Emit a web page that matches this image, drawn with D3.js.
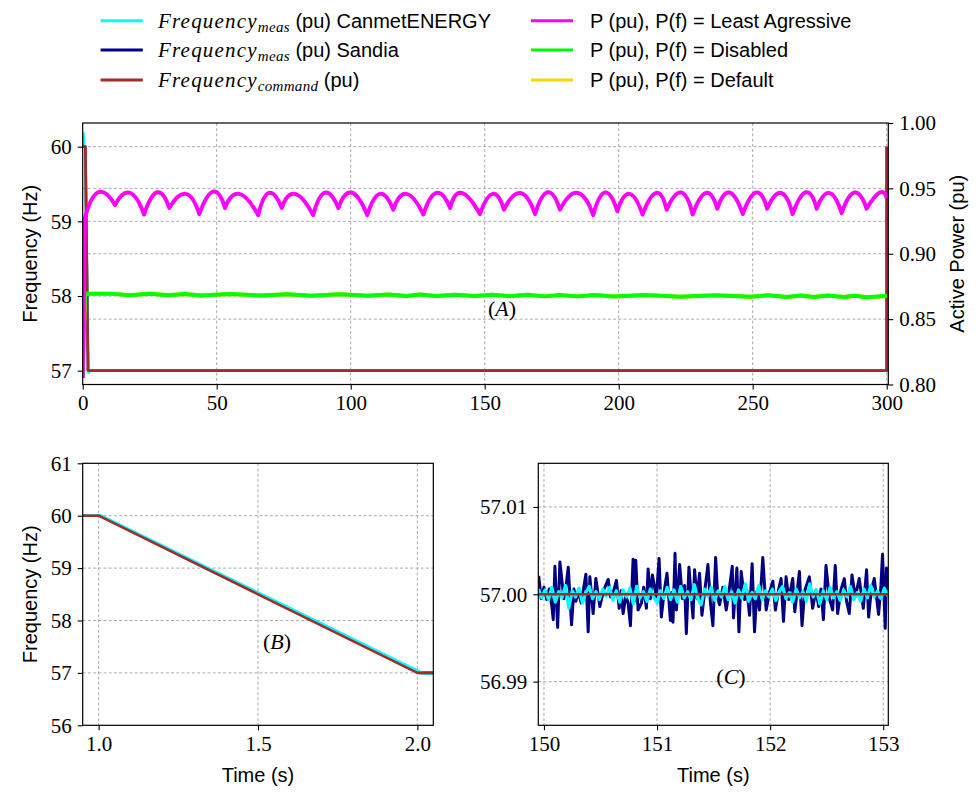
<!DOCTYPE html>
<html>
<head>
<meta charset="utf-8">
<script src="https://cdn.jsdelivr.net/npm/d3@7"></script>
<style>
  html, body { margin: 0; padding: 0; background: #fff; }
  svg { display: block; }
</style>
</head>
<body>
<svg id="chart" width="979" height="794"></svg>
<script>
// ---------------- Series names and colours ----------------
const freqSeriesNames = ["CanmetENERGY", "Sandia", "command"];
const powerSeriesNames = ["Least Agressive", "Disabled", "Default"];

// ---------------- Panel A: full 300 s test ----------------
const xTicksA = [0, 50, 100, 150, 200, 250, 300];
const fTicksA = [57, 58, 59, 60];
const pTicksA = [0.80, 0.85, 0.90, 0.95, 1.00];

// frequency command (Hz)
const cmdTimeA = [0, 1, 2, 300, 300];
const cmdFreqA = [60, 60, 57, 57, 60];
// measured frequency, CanmetENERGY (Hz)
const canmetTimeA = [0, 0.3, 0.6, 1.01, 2.02, 2.2, 2.6, 300.02, 300.05];
const canmetFreqA = [60.0, 60.18, 60.0, 60.0, 57.0, 56.97, 57.0, 57.0, 60.0];
// measured frequency, Sandia (Hz)
const sandiaTimeA = [0, 1.005, 2.01, 300.01, 300.03];
const sandiaFreqA = [60, 60, 57, 57, 60];

// Active power, P(f) = Least Agressive: start-up ramp, then scalloped trace
// described by its troughs (knots) and the crest between each pair of knots
const leastLeadTime = [0, 0.8];
const leastLeadP = [0.805, 0.927];
const leastKnotTime = [0.8, 12.05, 22.9, 32.3, 43.5, 53.1, 65.5, 74.3, 86.0, 95.4,
  106.2, 115.9, 127.1, 137.1, 148.2, 157.2, 168.8, 178.1, 190.5, 199.5,
  208.9, 217.9, 227.6, 236.8, 246.3, 255.4, 264.9, 273.9, 283.2, 292.5, 300];
const leastKnotP = [0.927, 0.9373, 0.9300, 0.9350, 0.9303, 0.9350, 0.9295, 0.9350, 0.9295, 0.9350,
  0.9295, 0.9337, 0.9300, 0.9350, 0.9303, 0.9337, 0.9303, 0.9337, 0.9295, 0.9325,
  0.9300, 0.9337, 0.9300, 0.9345, 0.9303, 0.9345, 0.9303, 0.9345, 0.9310, 0.9345, 0.9425];
const leastCrestTime = [5.8, 17.6, 27.8, 38.5, 48.7, 58.4, 69.5, 79.2, 90.4, 100.3,
  110.9, 120.8, 132.0, 141.4, 153.0, 163.3, 173.5, 184.7, 194.9, 204.0,
  214.0, 223.3, 232.6, 241.3, 251.3, 260.6, 269.9, 278.6, 288.0, 297.4];
const leastCrestP = [0.9470, 0.9465, 0.9470, 0.9458, 0.9475, 0.9458, 0.9465, 0.9458, 0.9468, 0.9468,
  0.9458, 0.9458, 0.9465, 0.9465, 0.9458, 0.9465, 0.9470, 0.9465, 0.9468, 0.9458,
  0.9465, 0.9468, 0.9465, 0.9468, 0.9468, 0.9465, 0.9470, 0.9465, 0.9468, 0.9468];

// Active power, P(f) = Disabled (the Default run follows the same trace)
const disabledTime = [0, 0.8, 10, 17.6, 25, 32.0, 38, 44.2, 55, 66.6,
  76, 85.3, 96, 106.4, 114, 120.7, 126, 131.9, 139, 146.2,
  153, 159.5, 166, 172.5, 178, 184.4, 191, 198, 210, 222.9,
  236, 249, 256, 262.7, 268, 272.7, 278, 283.9, 288, 292.6, 300];
const disabledP = [0.805, 0.8695, 0.8695, 0.8683, 0.8694, 0.8682, 0.8693, 0.8681, 0.8692, 0.8680,
  0.8691, 0.8679, 0.8690, 0.8678, 0.8689, 0.8677, 0.8688, 0.8677, 0.8687, 0.8676,
  0.8686, 0.8675, 0.8686, 0.8674, 0.8685, 0.8674, 0.8684, 0.8673, 0.8684, 0.8672,
  0.8683, 0.8671, 0.8682, 0.8670, 0.8681, 0.8670, 0.8680, 0.8669, 0.8679, 0.8668, 0.8676];
const defaultTime = disabledTime;
const defaultP = disabledP;

// ---------------- Panel B: the 60 -> 57 Hz ramp ----------------
const xTicksB = [1.0, 1.5, 2.0];
const fTicksB = [56, 57, 58, 59, 60, 61];
const cmdTimeB = [0.95, 1.0, 2.0, 2.05];
const cmdFreqB = [60, 60, 57, 57];
const canmetTimeB = [0.95, 1.008, 2.015, 2.03, 2.05];
const canmetFreqB = [60, 60, 57.0, 56.985, 56.985];
const sandiaTimeB = [0.95, 1.004, 2.006, 2.05];
const sandiaFreqB = [60, 60, 57, 57];

// ---------------- Panel C: steady state at 57 Hz ----------------
const xTicksC = [150, 151, 152, 153];
const fTicksC = [56.99, 57.00, 57.01];
const nominalC = 57.0; // Hz; deviations below are in mHz about this level
const cmdTimeC = [149.9, 153.1];
const cmdDevC = [0, 0];
const sandiaTimeC = [149.953,149.976,150.000,150.024,150.047,150.071,150.082,150.097,150.121,150.141,
  150.176,150.194,150.215,150.244,150.265,150.282,150.306,150.329,150.371,150.391,
  150.406,150.435,150.459,150.494,150.529,150.568,150.588,150.612,150.641,150.665,
  150.682,150.700,150.724,150.744,150.765,150.788,150.800,150.812,150.832,150.862,
  150.882,150.906,150.921,150.941,150.959,150.994,151.018,151.038,151.065,151.088,
  151.118,151.129,151.141,151.159,151.171,151.200,151.224,151.244,151.259,151.282,
  151.318,151.332,151.353,151.376,151.397,151.421,151.450,151.471,151.494,151.518,
  151.538,151.553,151.582,151.612,151.635,151.665,151.676,151.706,151.724,151.744,
  151.774,151.794,151.818,151.841,151.862,151.882,151.906,151.935,151.965,151.994,
  152.024,152.047,152.076,152.097,152.118,152.141,152.165,152.200,152.218,152.259,
  152.282,152.306,152.347,152.376,152.406,152.429,152.450,152.471,152.494,152.524,
  152.553,152.576,152.597,152.626,152.656,152.676,152.700,152.724,152.753,152.788,
  152.824,152.853,152.871,152.894,152.921,152.959,152.979,152.994,153.018,153.029,153.041];
const sandiaDevC = [2.1,-0.5,0.8,-0.6,0.6,-1.5,-2.9,3.2,-3.8,3.7,
  -0.5,0.8,3.1,-3.5,0.6,-0.8,0.3,-1.0,2.3,-4.3,
  2.0,-2.2,1.8,-1.4,0.5,1.7,-0.3,0.2,1.6,-1.6,
  0.4,-2.2,-0.2,-1.0,-3.6,4.0,-0.8,3.9,-1.8,-1.0,
  0.8,-1.6,2.9,-0.5,2.2,-0.3,4.1,-2.6,0.5,2.4,
  -3.0,0.2,-3.2,4.7,-1.8,3.4,-0.5,1.0,-4.5,3.1,
  -2.7,2.8,-0.5,2.4,-2.4,0.3,3.4,-0.8,-3.6,4.2,
  -0.5,-1.2,0.8,-1.8,0.2,3.2,-2.7,3.0,-4.3,2.6,
  -0.6,0.5,-2.4,3.5,-4.3,0.3,-1.8,4.2,-1.8,0.2,
  1.5,-1.8,0.6,1.8,-3.1,2.0,-0.6,1.8,-2.0,2.6,
  -3.6,0.4,2.0,-1.6,0.5,-1.4,0.6,-2.9,3.3,-0.5,
  -1.8,3.3,-2.2,0.5,1.8,-0.8,-2.2,2.2,-0.3,1.8,
  -1.6,2.8,-2.6,0.4,1.8,-2.3,0.8,4.6,-3.9,3.0,0.5];
const canmetTimeC = [149.953,149.98,150.01,150.04,150.07,150.10,150.13,150.16,150.19,150.22,
  150.25,150.28,150.31,150.34,150.37,150.40,150.43,150.46,150.49,150.52,
  150.55,150.58,150.61,150.64,150.67,150.70,150.73,150.76,150.79,150.82,
  150.85,150.88,150.91,150.94,150.97,151.00,151.03,151.06,151.09,151.12,
  151.15,151.18,151.21,151.24,151.27,151.30,151.33,151.36,151.39,151.42,
  151.45,151.48,151.51,151.54,151.57,151.60,151.63,151.66,151.69,151.72,
  151.75,151.78,151.81,151.84,151.87,151.90,151.93,151.96,151.99,152.02,
  152.05,152.08,152.11,152.14,152.17,152.20,152.23,152.26,152.29,152.32,
  152.35,152.38,152.41,152.44,152.47,152.50,152.53,152.56,152.59,152.62,
  152.65,152.68,152.71,152.74,152.77,152.80,152.83,152.86,152.89,152.92,
  152.95,152.98,153.01,153.04];
const canmetDevC = [0.6,-0.4,0.5,-0.6,0.8,-0.9,0.3,-0.4,1.0,-1.6,
  0.4,-0.3,0.7,-1.0,0.2,0.9,-0.5,0.3,-0.6,0.6,
  -0.2,0.8,-0.7,0.4,-0.9,0.5,-0.3,0.7,-1.1,0.9,
  -0.4,0.3,-0.8,0.6,-0.3,-1.0,0.4,-0.5,0.8,-0.6,
  0.5,-0.9,0.9,-0.4,0.3,-0.6,1.1,-0.5,-1.2,0.6,
  -0.2,0.8,-0.7,0.4,-0.3,0.9,-0.6,0.3,-1.0,0.5,
  -0.4,1.2,-0.8,0.2,-0.5,1.0,-0.6,0.4,-0.3,0.6,
  -0.7,0.3,0.9,-0.5,0.2,-0.9,0.6,-0.4,0.3,-0.8,
  1.2,-0.3,0.5,-1.1,0.4,-0.6,0.8,-0.4,0.3,-0.7,
  0.5,-0.3,0.9,-0.6,0.2,-0.8,0.6,-0.4,1.0,-0.3,
  0.4,-0.5,0.7,-0.2];

// ---------------- Styling ----------------
const colors = {
  canmet: "#00ffff", sandia: "#00008b", command: "#a52a2a",
  least: "#ff00ff", disabled: "#00ff00", deflt: "#ffd700"
};
const SERIF = "'Liberation Serif', 'Times New Roman', serif";
const SANS = "'Liberation Sans', Arial, Helvetica, sans-serif";
const TICK_FONT = 21;
const GRID = { stroke: "#a3a3a3", width: 0.9, dash: "3,2.2" };

const svg = d3.select("#chart");
const zip = (a, b) => a.map((v, i) => [v, b[i]]);

function makePanel(id, box) {
  const g = svg.append("g").attr("class", "panel-" + id);
  svg.append("defs").append("clipPath").attr("id", "clip-" + id)
    .append("rect").attr("x", box.left).attr("y", box.top)
    .attr("width", box.right - box.left).attr("height", box.bottom - box.top);
  const grid = g.append("g");
  const plot = g.append("g").attr("clip-path", `url(#clip-${id})`);
  const deco = g.append("g");
  return { g, grid, plot, deco, box };
}

function styleAxis(sel) {
  sel.select(".domain").remove();
  sel.selectAll(".tick line").attr("stroke", "#000").attr("stroke-width", 1.1);
  sel.selectAll(".tick text").attr("font-family", SERIF).attr("font-size", TICK_FONT).attr("fill", "#000");
}

function vGrid(p, x, values) {
  p.grid.selectAll(null).data(values).enter().append("line")
    .attr("x1", d => x(d)).attr("x2", d => x(d))
    .attr("y1", p.box.top).attr("y2", p.box.bottom)
    .attr("stroke", GRID.stroke).attr("stroke-width", GRID.width).attr("stroke-dasharray", GRID.dash);
}
function hGrid(p, y, values) {
  p.grid.selectAll(null).data(values).enter().append("line")
    .attr("y1", d => y(d)).attr("y2", d => y(d))
    .attr("x1", p.box.left).attr("x2", p.box.right)
    .attr("stroke", GRID.stroke).attr("stroke-width", GRID.width).attr("stroke-dasharray", GRID.dash);
}
function frame(p) {
  const b = p.box;
  p.deco.append("rect").attr("x", b.left).attr("y", b.top)
    .attr("width", b.right - b.left).attr("height", b.bottom - b.top)
    .attr("fill", "none").attr("stroke", "#000").attr("stroke-width", 1.2);
}
function drawLine(p, x, y, pts, color, width) {
  p.plot.append("path").datum(pts)
    .attr("d", d3.line().x(d => x(d[0])).y(d => y(d[1])))
    .attr("fill", "none").attr("stroke", color).attr("stroke-width", width)
    .attr("stroke-linejoin", "round").attr("stroke-linecap", "butt");
}
function axisLabelY(xPos, yMid, text) {
  svg.append("text").attr("transform", `translate(${xPos},${yMid}) rotate(-90)`)
    .attr("text-anchor", "middle").attr("font-family", SANS).attr("font-size", 20)
    .attr("fill", "#000").text(text);
}
function axisLabelX(xMid, yPos, text) {
  svg.append("text").attr("x", xMid).attr("y", yPos)
    .attr("text-anchor", "middle").attr("font-family", SANS).attr("font-size", 20)
    .attr("fill", "#000").text(text);
}
function panelTag(xMid, yBase, letter) {
  const t = svg.append("text").attr("x", xMid).attr("y", yBase)
    .attr("text-anchor", "middle").attr("font-family", SERIF).attr("font-size", 22).attr("fill", "#000");
  t.append("tspan").text("(");
  t.append("tspan").attr("font-style", "italic").text(letter);
  t.append("tspan").text(")");
}

// ================= Panel A =================
const pA = makePanel("A", { left: 82.7, right: 888.3, top: 123, bottom: 384.5 });
const xA = d3.scaleLinear().domain([0, 300.6]).range([pA.box.left, pA.box.right]);
const fA = d3.scaleLinear().domain([56.815, 60.317]).range([pA.box.bottom, pA.box.top]);
const pwA = d3.scaleLinear().domain([0.80, 1.00]).range([pA.box.bottom, pA.box.top]);

vGrid(pA, xA, xTicksA.slice(1));
hGrid(pA, fA, fTicksA);
hGrid(pA, pwA, pTicksA.slice(1, -1));

drawLine(pA, xA, fA, zip(sandiaTimeA, sandiaFreqA), colors.sandia, 2.6);
drawLine(pA, xA, fA, zip(canmetTimeA, canmetFreqA), colors.canmet, 2.6);
drawLine(pA, xA, fA, zip(cmdTimeA, cmdFreqA), colors.command, 2.8);

drawLine(pA, xA, pwA, zip(defaultTime, defaultP), colors.deflt, 4);
drawLine(pA, xA, pwA, zip(disabledTime, disabledP), colors.disabled, 4);

// scalloped Least Agressive trace: each arc is a quadratic through its crest
(function () {
  const path = d3.path();
  path.moveTo(xA(leastLeadTime[0]), pwA(leastLeadP[0]));
  for (let i = 1; i < leastLeadTime.length; i++) path.lineTo(xA(leastLeadTime[i]), pwA(leastLeadP[i]));
  path.lineTo(xA(leastKnotTime[0]), pwA(leastKnotP[0]));
  for (let i = 0; i < leastCrestTime.length; i++) {
    const x0 = xA(leastKnotTime[i]), y0 = pwA(leastKnotP[i]);
    const x2 = xA(leastKnotTime[i + 1]), y2 = pwA(leastKnotP[i + 1]);
    const xc = xA(leastCrestTime[i]), yc = pwA(leastCrestP[i]);
    path.quadraticCurveTo(2 * xc - (x0 + x2) / 2, 2 * yc - (y0 + y2) / 2, x2, y2);
  }
  pA.plot.append("path").attr("d", path.toString())
    .attr("fill", "none").attr("stroke", colors.least).attr("stroke-width", 4)
    .attr("stroke-linejoin", "round");
})();

frame(pA);
pA.deco.append("g").attr("transform", `translate(0,${pA.box.bottom})`)
  .call(d3.axisBottom(xA).tickValues(xTicksA).tickFormat(d3.format("d")).tickSize(5).tickPadding(6))
  .call(styleAxis);
pA.deco.append("g").attr("transform", `translate(${pA.box.left},0)`)
  .call(d3.axisLeft(fA).tickValues(fTicksA).tickFormat(d3.format("d")).tickSize(5).tickPadding(6))
  .call(styleAxis);
pA.deco.append("g").attr("transform", `translate(${pA.box.right},0)`)
  .call(d3.axisRight(pwA).tickValues(pTicksA).tickFormat(d3.format(".2f")).tickSize(5).tickPadding(6))
  .call(styleAxis);
axisLabelY(37, (pA.box.top + pA.box.bottom) / 2, "Frequency (Hz)");
axisLabelY(964, (pA.box.top + pA.box.bottom) / 2, "Active Power (pu)");
panelTag(502, 316, "A");

// ================= Panel B =================
const pB = makePanel("B", { left: 82.7, right: 433.3, top: 463.3, bottom: 725.3 });
const xB = d3.scaleLinear().domain([0.95, 2.05]).range([pB.box.left, pB.box.right]);
const fB = d3.scaleLinear().domain([56, 61]).range([pB.box.bottom, pB.box.top]);
vGrid(pB, xB, xTicksB);
hGrid(pB, fB, fTicksB.slice(1, -1));
drawLine(pB, xB, fB, zip(sandiaTimeB, sandiaFreqB), colors.sandia, 2.6);
drawLine(pB, xB, fB, zip(canmetTimeB, canmetFreqB), colors.canmet, 2.8);
drawLine(pB, xB, fB, zip(cmdTimeB, cmdFreqB), colors.command, 2.6);
frame(pB);
pB.deco.append("g").attr("transform", `translate(0,${pB.box.bottom})`)
  .call(d3.axisBottom(xB).tickValues(xTicksB).tickFormat(d3.format(".1f")).tickSize(5).tickPadding(6))
  .call(styleAxis);
pB.deco.append("g").attr("transform", `translate(${pB.box.left},0)`)
  .call(d3.axisLeft(fB).tickValues(fTicksB).tickFormat(d3.format("d")).tickSize(5).tickPadding(6))
  .call(styleAxis);
axisLabelY(37, (pB.box.top + pB.box.bottom) / 2, "Frequency (Hz)");
axisLabelX((pB.box.left + pB.box.right) / 2, 782, "Time (s)");
panelTag(277, 649, "B");

// ================= Panel C =================
const pC = makePanel("C", { left: 538.3, right: 888.3, top: 463.3, bottom: 725.3 });
const xC = d3.scaleLinear().domain([149.95, 153.045]).range([pC.box.left, pC.box.right]);
const fC = d3.scaleLinear().domain([56.985, 57.015]).range([pC.box.bottom, pC.box.top]);
const toHz = dev => nominalC + dev / 1000;
vGrid(pC, xC, xTicksC);
hGrid(pC, fC, fTicksC);
drawLine(pC, xC, fC, zip(sandiaTimeC, sandiaDevC.map(toHz)), "#000080", 3);
drawLine(pC, xC, fC, zip(canmetTimeC, canmetDevC.map(toHz)), colors.canmet, 3.2);
drawLine(pC, xC, fC, zip(cmdTimeC, cmdDevC.map(toHz)), colors.command, 2.6);
frame(pC);
pC.deco.append("g").attr("transform", `translate(0,${pC.box.bottom})`)
  .call(d3.axisBottom(xC).tickValues(xTicksC).tickFormat(d3.format("d")).tickSize(5).tickPadding(6))
  .call(styleAxis);
pC.deco.append("g").attr("transform", `translate(${pC.box.left},0)`)
  .call(d3.axisLeft(fC).tickValues(fTicksC).tickFormat(d3.format(".2f")).tickSize(5).tickPadding(6))
  .call(styleAxis);
axisLabelX((pC.box.left + pC.box.right) / 2, 782, "Time (s)");
panelTag(731, 684, "C");

// ================= Legend =================
const legendRows = [20.7, 50, 80];
const freqLegend = [
  { color: colors.canmet, sub: "meas", tail: " (pu) " + freqSeriesNames[0] },
  { color: colors.sandia, sub: "meas", tail: " (pu) " + freqSeriesNames[1] },
  { color: colors.command, sub: freqSeriesNames[2], tail: " (pu)" }
];
const powerLegend = [
  { color: colors.least, text: "P (pu), P(f) = " + powerSeriesNames[0] },
  { color: colors.disabled, text: "P (pu), P(f) = " + powerSeriesNames[1] },
  { color: colors.deflt, text: "P (pu), P(f) = " + powerSeriesNames[2] }
];
const leg = svg.append("g").attr("class", "legend");
freqLegend.forEach((d, i) => {
  const cy = legendRows[i];
  leg.append("line").attr("x1", 100.6).attr("x2", 142.8).attr("y1", cy).attr("y2", cy)
    .attr("stroke", d.color).attr("stroke-width", 3);
  const t = leg.append("text").attr("x", 158).attr("y", cy + 7).attr("fill", "#000");
  t.append("tspan").attr("font-family", SERIF).attr("font-style", "italic")
    .attr("font-size", 21).attr("letter-spacing", 1.2).text("Frequency");
  t.append("tspan").attr("font-family", SERIF).attr("font-style", "italic")
    .attr("font-size", 15).attr("dy", 4).attr("letter-spacing", 0.3).text(d.sub);
  t.append("tspan").attr("font-family", SANS).attr("font-size", 20).attr("dy", -4).text(d.tail);
});
powerLegend.forEach((d, i) => {
  const cy = legendRows[i];
  leg.append("line").attr("x1", 531).attr("x2", 573).attr("y1", cy).attr("y2", cy)
    .attr("stroke", d.color).attr("stroke-width", 3);
  leg.append("text").attr("x", 590).attr("y", cy + 7).attr("fill", "#000")
    .attr("font-family", SANS).attr("font-size", 20).text(d.text);
});
</script>
</body>
</html>
